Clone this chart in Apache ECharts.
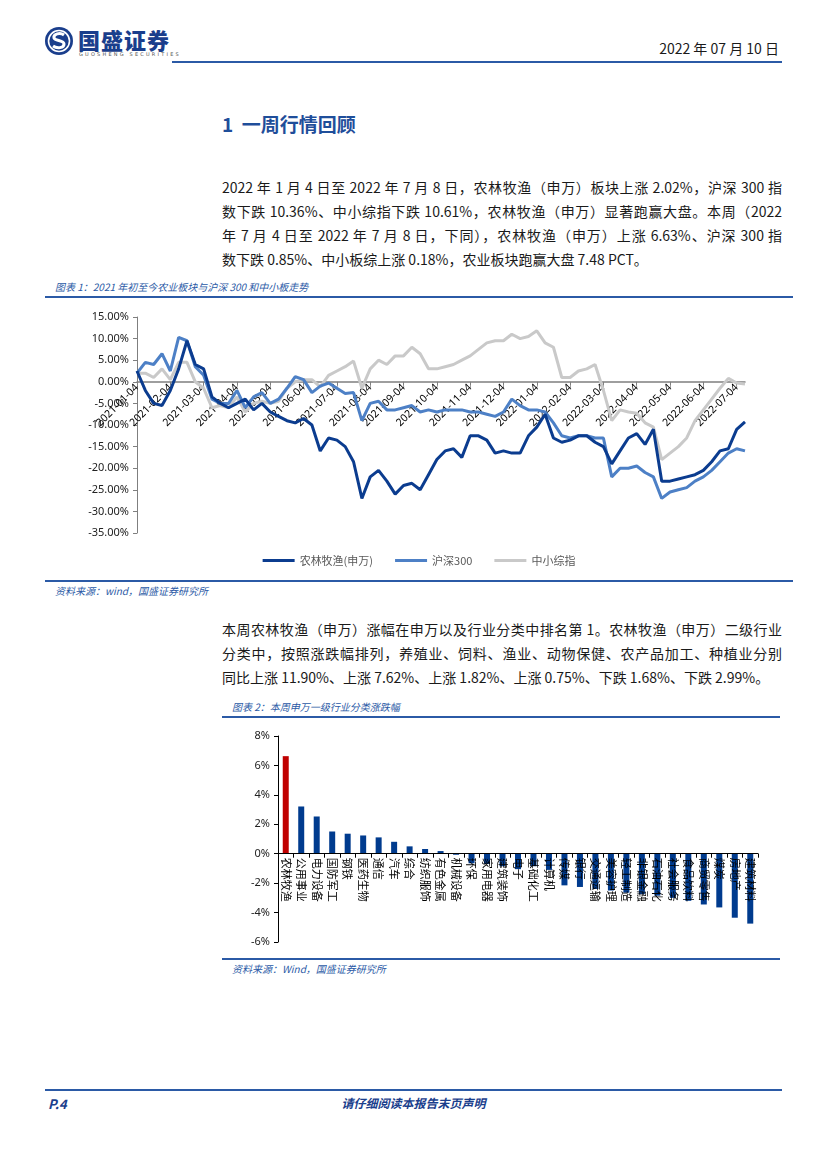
<!DOCTYPE html>
<html><head><meta charset="utf-8">
<script src="https://cdn.jsdelivr.net/npm/echarts@6/dist/echarts.min.js"></script>
<style>
body{margin:0;background:#fff;}
#page{position:relative;width:827px;height:1169px;overflow:hidden;font-family:"Noto Sans CJK SC","Noto Sans",sans-serif;color:#1a1a1a;}
.abs{position:absolute;}
.hl{position:absolute;background:#2B5AA6;}
.para{position:absolute;left:222px;width:560px;font-size:14px;line-height:24px;}
.para div{text-align:justify;text-align-last:justify;white-space:nowrap;height:24px;}
.para div.last{text-align-last:left;}
.cap{position:absolute;font-size:10px;font-style:italic;color:#2B5AA6;}
</style></head>
<body><div id="page">
  <svg class="abs" style="left:44px;top:26px" width="30" height="30" viewBox="0 0 30 30">
    <circle cx="15" cy="15" r="14" fill="#1A3E8C"/>
    <circle cx="15" cy="15" r="10.5" fill="none" stroke="#fff" stroke-width="1.6"/>
    <path d="M20 9 C16 6,9 8,10 12 C11 15,20 14,20 18 C20 22,13 23,9 20" fill="none" stroke="#fff" stroke-width="3"/>
  </svg>
  <div class="abs" style="left:78px;top:23px;font-size:22px;font-weight:900;color:#1A3E8C;letter-spacing:1px;">国盛证券</div>
  <div class="abs" style="left:79px;top:51px;font-size:5px;color:#555;letter-spacing:2.2px;font-family:'DejaVu Sans';">GUOSHENG SECURITIES</div>
  <div class="abs" style="right:48px;top:38px;font-size:14px;">2022 年 07 月 10 日</div>
  <div class="hl" style="left:172px;top:61px;width:610px;height:2px;"></div>

  <div class="abs" style="left:222px;top:110px;font-size:19px;font-weight:bold;color:#1F4E9A;">1&nbsp; 一周行情回顾</div>

  <div class="para" style="top:175px;">
    <div>2022 年 1 月 4 日至 2022 年 7 月 8 日，农林牧渔（申万）板块上涨 2.02%，沪深 300 指</div>
    <div>数下跌 10.36%、中小综指下跌 10.61%，农林牧渔（申万）显著跑赢大盘。本周（2022</div>
    <div>年 7 月 4 日至 2022 年 7 月 8 日，下同），农林牧渔（申万）上涨 6.63%、沪深 300 指</div>
    <div class="last">数下跌 0.85%、中小板综上涨 0.18%，农业板块跑赢大盘 7.48 PCT。</div>
  </div>

  <div class="cap" style="left:55px;top:279px;">图表 1：2021 年初至今农业板块与沪深 300 和中小板走势</div>
  <div class="hl" style="left:45px;top:296px;width:748px;height:2px;"></div>
  <div id="c1" class="abs" style="left:45px;top:300px;width:748px;height:280px;"></div>
  <div class="hl" style="left:45px;top:580px;width:748px;height:2px;"></div>
  <div class="cap" style="left:55px;top:583px;">资料来源：wind，国盛证券研究所</div>

  <div class="para" style="top:617px;">
    <div>本周农林牧渔（申万）涨幅在申万以及行业分类中排名第 1。农林牧渔（申万）二级行业</div>
    <div>分类中，按照涨跌幅排列，养殖业、饲料、渔业、动物保健、农产品加工、种植业分别</div>
    <div class="last">同比上涨 11.90%、上涨 7.62%、上涨 1.82%、上涨 0.75%、下跌 1.68%、下跌 2.99%。</div>
  </div>

  <div class="cap" style="left:232px;top:699px;">图表 2：本周申万一级行业分类涨跌幅</div>
  <div class="hl" style="left:222px;top:716px;width:558px;height:2px;"></div>
  <div id="c2" class="abs" style="left:222px;top:718px;width:560px;height:240px;"></div>
  <div class="hl" style="left:222px;top:958px;width:558px;height:2px;"></div>
  <div class="cap" style="left:232px;top:961px;">资料来源：Wind，国盛证券研究所</div>

  <div class="hl" style="left:45px;top:1089px;width:737px;height:2px;"></div>
  <div class="abs" style="left:48px;top:1094px;font-size:13px;font-weight:bold;font-style:italic;color:#1A3E8C;">P.4</div>
  <div class="abs" style="left:0;width:827px;text-align:center;top:1094px;font-size:12px;font-weight:bold;font-style:italic;color:#1A3E8C;">请仔细阅读本报告末页声明</div>
</div>
<script>
// ---- Chart 1 data ----
const months = ['2021-01','2021-02','2021-03','2021-04','2021-05','2021-06','2021-07','2021-08','2021-09','2021-10','2021-11','2021-12','2022-01','2022-02','2022-03','2022-04','2022-05','2022-06'];
const weekDays = ['04','11','18','25'];
const dates = [];
months.forEach(m => weekDays.forEach(d => dates.push(m + '-' + d)));
dates.push('2022-07-04', '2022-07-08');

const agri = [2.5,-2,-5,-5.5, -2,3,9.5,4, 3,-3.5,-5,-6, -5,-4,-6.5,-5,
  -7,-8,-9,-9.5, -8.5,-10,-16,-13, -13.5,-15,-18.5,-27, -22,-20.5,-23,-26,
  -24,-23.5,-25,-21.5, -18,-16,-15.5,-17.5, -12.5,-12.5,-13.5,-16.5, -16,-16.5,-16.5,-12.5,
  -10.5,-7.5,-13,-14, -13.5,-12.5,-12.5,-14, -15,-19,-16,-13, -12,-14.5,-11,-23,
  -23,-22.5,-22,-21.5, -20.5,-18.5,-16,-15.5, -11,-9.3];
const hs300 = [2,4.5,4,6.5, 2.5,10.3,9.5,3.5, 1.5,-4,-5,-5, -2,-6,-3.5,-2.5,
  -5,-4,-1.5,1.2, 0.5,-2.5,-1,-0.3, -1.5,-2.7,-2.5,-9, -5,-4.5,-6.5,-6.5,
  -6,-5.5,-7,-6.5, -7,-6.5,-6.5,-6.5, -7,-7,-7.5,-8, -7,-4,-5.5,-6.5,
  -6.5,-7,-9.5,-12.5, -13,-12.5,-12.5,-13, -13,-22,-20,-20, -19.5,-21,-22,-27,
  -25.5,-25,-24.5,-23, -22,-20.5,-18.5,-16.5, -15.5,-16];
const smallCap = [2,2,1,3, 0.5,4.5,4.5,0, -1.5,-6,-5.5,-6, -3.5,-7,-5,-4.5,
  -5,-4.5,-1.5,0, 0.5,0.5,-1.2,1.5, 2.5,3.5,4.8,-1.5, 3,5,4,6,
  6,8,6.5,3, 3,3.5,4,5, 6,7.5,9,9.5, 9.5,11,10,10.5,
  11.8,9,8,1, 1,2.5,3,4, -2,-9,-6.5,-7, -7.3,-9.5,-10.5,-18,
  -16.5,-15,-13,-9, -6.5,-4,-1.5,0.8, -0.3,-0.5];
const lineNames = ['农林牧渔(申万)','沪深300','中小综指'];
const lineColors = ['#0B3C8F','#4D80C6','#C9C9C9'];
const yMin1 = -35, yMax1 = 15, yStep1 = 5;

// ---- Chart 2 data ----
const industries = ['农林牧渔','公用事业','电力设备','国防军工','钢铁','医药生物','通信','汽车','综合','纺织服饰','有色金属','机械设备','环保','家用电器','建筑装饰','电子','基础化工','计算机','传媒','银行','交通运输','美容护理','轻工制造','非银金融','石油石化','社会服务','食品饮料','商贸零售','煤炭','房地产','建筑材料'];
const weekChange = [6.63,3.21,2.53,1.51,1.36,1.24,1.11,0.81,0.5,0.32,0.18,-0.07,-0.65,-0.7,-0.85,-1.05,-0.85,-1.1,-2.15,-2.26,-2.4,-2.5,-2.65,-2.75,-2.85,-3.0,-3.2,-3.45,-3.65,-4.35,-4.75];
const yMin2 = -6, yMax2 = 8, yStep2 = 2;

const axisFont = {fontFamily:'Noto Sans', fontSize:11, color:'#222'};

// grid geometry (pixels inside each chart box)
const g1 = {left:92, right:48, top:17, bottom:47, h:280};
const g1h = g1.h - g1.top - g1.bottom;
const zeroOff1 = -g1h * (0 - yMin1) / (yMax1 - yMin1);   // move x axis up to y=0
const g2 = {left:56, right:24, top:18, bottom:16, h:240};
const g2h = g2.h - g2.top - g2.bottom;
const zeroOff2 = -g2h * (0 - yMin2) / (yMax2 - yMin2);

const c1 = echarts.init(document.getElementById('c1'), null, {renderer:'canvas'});
c1.setOption({
  animation:false,
  grid:{left:g1.left, right:g1.right, top:g1.top, bottom:g1.bottom, outerBoundsMode:'none', containLabel:false},
  legend:{bottom:9, left:'center', itemWidth:32, itemHeight:3, itemGap:22, icon:'rect',
    textStyle:{fontFamily:'Noto Sans CJK SC', fontSize:11, color:'#595959'}, data:lineNames},
  xAxis:{type:'category', data:dates, boundaryGap:false, offset:zeroOff1, z:1,
    axisLine:{onZero:false, lineStyle:{color:'#7f7f7f', width:1.5}},
    axisTick:{show:true, interval:(i,v)=>v.endsWith('-04') && v!=='2022-07-08', length:4, lineStyle:{color:'#7f7f7f'}},
    axisLabel:{interval:(i,v)=>v.endsWith('-04'), rotate:45, margin:4,
      fontFamily:'Noto Sans', fontSize:10.5, color:'#000'}},
  yAxis:{type:'value', min:yMin1, max:yMax1, interval:yStep1,
    axisLine:{show:true, lineStyle:{color:'#7f7f7f'}},
    axisTick:{show:true, length:4, lineStyle:{color:'#7f7f7f'}},
    splitLine:{show:false},
    axisLabel:Object.assign({formatter:v=>v.toFixed(2)+'%', margin:8}, axisFont)},
  series:[agri,hs300,smallCap].map((d,i)=>({
    name:lineNames[i], type:'line', data:d, showSymbol:false, symbol:'none',
    z:[4,3,2][i], lineStyle:{width:3, color:lineColors[i]}, itemStyle:{color:lineColors[i]}
  }))
});

const c2 = echarts.init(document.getElementById('c2'), null, {renderer:'canvas'});
c2.setOption({
  animation:false,
  grid:{left:g2.left, right:g2.right, top:g2.top, bottom:g2.bottom, outerBoundsMode:'none', containLabel:false},
  xAxis:{type:'category', data:industries, offset:zeroOff2, z:5,
    axisLine:{onZero:false, lineStyle:{color:'#000'}},
    axisTick:{show:true, length:4, lineStyle:{color:'#000'}},
    axisLabel:{interval:0, rotate:-90, margin:4, fontFamily:'Noto Sans CJK SC', fontSize:11, color:'#000'}},
  yAxis:{type:'value', min:yMin2, max:yMax2, interval:yStep2,
    axisLine:{show:true, lineStyle:{color:'#000'}},
    axisTick:{show:true, length:4, lineStyle:{color:'#000'}},
    splitLine:{show:false},
    axisLabel:Object.assign({formatter:v=>v+'%', margin:8}, axisFont)},
  series:[{type:'bar', barWidth:6, z:2,
    data:weekChange.map((v,i)=>({value:v, itemStyle:{color: i===0 ? '#C00000' : '#003B8E'}}))}]
});
</script>
</body></html>
